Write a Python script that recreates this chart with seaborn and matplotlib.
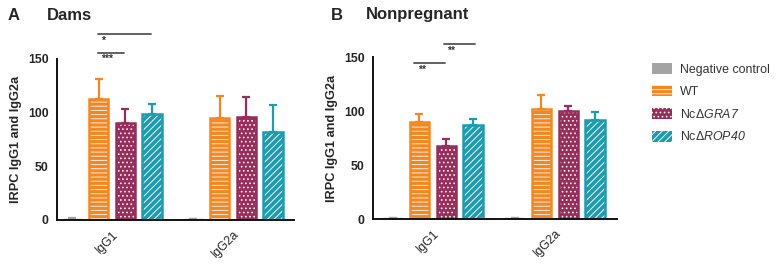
import numpy as np
import pandas as pd
import matplotlib
matplotlib.use("Agg")
import matplotlib.pyplot as plt
import matplotlib.patches as mpatches
import seaborn as sns

# ---------------- data ----------------
groups = ["Negative control", "WT", "NcΔGRA7", "NcΔROP40"]
isotypes = ["IgG1", "IgG2a"]

dams_igg1_mean = [1.0, 112.5, 90.5, 98.5]
dams_igg1_sd = [0.8, 18.5, 13.0, 9.5]
dams_igg2a_mean = [0.8, 95.0, 96.0, 82.0]
dams_igg2a_sd = [0.5, 20.5, 19.0, 25.0]

np_igg1_mean = [1.0, 89.5, 68.0, 87.0]
np_igg1_sd = [0.3, 8.0, 6.5, 5.5]
np_igg2a_mean = [0.5, 101.5, 100.0, 91.5]
np_igg2a_sd = [0.2, 13.5, 4.5, 7.5]

panel_titles = ["Dams", "Nonpregnant"]
panel_letters = ["A", "B"]

# significance annotations: (x0, x1, y, label)
dams_sig = [(-0.12, 0.32, 173, "*"), (-0.12, 0.10, 156, "***")]
np_sig = [(-0.15, 0.10, 144, "**"), (0.09, 0.35, 162, "**")]

# ---------------- style ----------------
sns.set_style("white")
plt.rcParams["font.family"] = ["Liberation Sans", "DejaVu Sans"]
plt.rcParams["hatch.linewidth"] = 0.7
plt.rcParams["mathtext.fontset"] = "custom"
plt.rcParams["mathtext.rm"] = "Liberation Sans:italic"
plt.rcParams["mathtext.it"] = "Liberation Sans:italic"
plt.rcParams["mathtext.bf"] = "Liberation Sans:bold"

colors = ["#a3a3a3", "#f7861e", "#962d5c", "#1a9cb2"]
hatches = [None, "----", "....", "/////"]
palette = dict(zip(groups, colors))

fig = plt.figure(figsize=(7.79, 2.64), dpi=100)
axA = fig.add_axes([57 / 779, 1 - 220 / 264, (294 - 57) / 779, (220 - 59) / 264])
axB = fig.add_axes([373 / 779, 1 - 219 / 264, (617 - 373) / 779, (219 - 57) / 264])


def make_df(m1, s1, m2, s2):
    rows = []
    for g, a, b in zip(groups, m1, s1):
        rows.append(dict(isotype="IgG1", group=g, mean=a, sd=b))
    for g, a, b in zip(groups, m2, s2):
        rows.append(dict(isotype="IgG2a", group=g, mean=a, sd=b))
    return pd.DataFrame(rows)


def draw_panel(ax, df, sig, xlim):
    sns.barplot(data=df, x="isotype", y="mean", hue="group", order=isotypes,
                hue_order=groups, palette=palette, width=0.88, gap=0.28,
                errorbar=None, legend=False, ax=ax, saturation=1)
    bar_conts = list(ax.containers)
    for gi, cont in enumerate(bar_conts):
        col = colors[gi]
        sub = df[df.group == groups[gi]].set_index("isotype").loc[isotypes]
        for bar, (_, r) in zip(cont.patches, sub.iterrows()):
            x = bar.get_x() + bar.get_width() / 2
            h = bar.get_height()
            bar.set_facecolor(col)
            if hatches[gi]:
                bar.set_hatch(hatches[gi])
                bar.set_edgecolor("#fff4ea")
                bar.set_linewidth(0)
                outline = mpatches.Rectangle((bar.get_x(), 0), bar.get_width(), h,
                                             fill=False, edgecolor=col, lw=1.8,
                                             zorder=bar.get_zorder() + 0.1)
                ax.add_patch(outline)
            else:
                bar.set_edgecolor(col)
                bar.set_linewidth(1.0)
            ax.errorbar([x], [h], yerr=[[0], [r["sd"]]], fmt="none", ecolor=col,
                        elinewidth=1.6, capsize=3.0, capthick=1.6, zorder=1)
    ax.set_ylim(0, 150)
    ax.set_xlim(*xlim)
    ax.set_yticks([0, 50, 100, 150])
    ax.set_xlabel("")
    ax.set_ylabel("IRPC IgG1 and IgG2a", fontsize=9.2, fontweight="bold", labelpad=4)
    for s in ["top", "right"]:
        ax.spines[s].set_visible(False)
    for s in ["left", "bottom"]:
        ax.spines[s].set_linewidth(1.4)
        ax.spines[s].set_color("#111111")
    ax.tick_params(axis="y", direction="out", length=4, width=1.2, labelsize=8.8, pad=2)
    ax.tick_params(axis="x", direction="out", length=4, width=1.2, labelsize=8.8, pad=2)
    for lab in ax.get_yticklabels():
        lab.set_fontweight("bold")
    for lab in ax.get_xticklabels():
        lab.set_rotation(45)
        lab.set_ha("right")
        lab.set_rotation_mode("anchor")
    for x0, x1, y, t in sig:
        ax.plot([x0, x1], [y, y], color="#555555", lw=1.3, clip_on=False)
        ax.text(x0 + 0.03, y - 1.5, t, fontsize=7.5, fontweight="bold", color="#333333",
                ha="left", va="top", clip_on=False)


draw_panel(axA, make_df(dams_igg1_mean, dams_igg1_sd, dams_igg2a_mean, dams_igg2a_sd),
           dams_sig, (-0.455, 1.504))
draw_panel(axB, make_df(np_igg1_mean, np_igg1_sd, np_igg2a_mean, np_igg2a_sd),
           np_sig, (-0.49, 1.51))

# panel titles
fig.text(8 / 779, 1 - 15 / 264, panel_letters[0], fontsize=12, fontweight="bold", va="center")
fig.text(47 / 779, 1 - 15 / 264, panel_titles[0], fontsize=12, fontweight="bold", va="center")
fig.text(331 / 779, 1 - 15 / 264, panel_letters[1], fontsize=12, fontweight="bold", va="center")
fig.text(366 / 779, 1 - 15 / 264, panel_titles[1], fontsize=12, fontweight="bold", va="center")

# legend
handles = []
for g, c, h in zip(groups, colors, hatches):
    if h:
        handles.append(mpatches.Patch(facecolor=c, edgecolor="#fff4ea", hatch=h, lw=0))
    else:
        handles.append(mpatches.Patch(facecolor=c, edgecolor=c, lw=0))
labels = ["Negative control", "WT", "NcΔ$GRA7$", "NcΔ$ROP40$"]
leg = fig.legend(handles, labels, loc="upper left", bbox_to_anchor=(647 / 779, 1 - 58 / 264),
                 frameon=False, fontsize=8.9, handlelength=1.6, handleheight=1.0,
                 labelspacing=0.78, handletextpad=0.7, borderaxespad=0)
for t in leg.get_texts():
    t.set_color("#333333")

fig.savefig("out.png", dpi=100, facecolor="white")
